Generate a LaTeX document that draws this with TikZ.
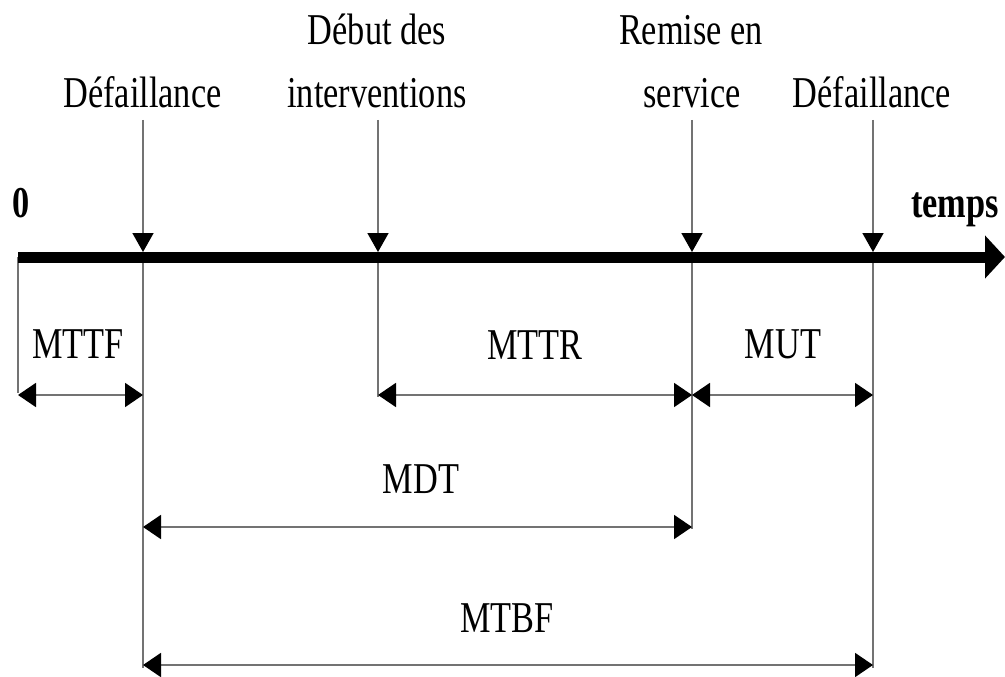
\documentclass[tikz,border=0pt]{standalone}
\usepackage{fontspec}
\setmainfont{Liberation Serif}[FakeStretch=0.78]
\usetikzlibrary{arrows.meta}
\begin{document}
\begin{tikzpicture}[x=1pt,y=-1pt,
  lbl/.style={anchor=base, inner sep=0pt, font=\fontsize{44}{52}\selectfont},
  boldlbl/.style={lbl, font=\fontsize{44}{52}\selectfont\bfseries},
  tick/.style={draw=black!55, line width=1.7pt},
  marker/.style={tick, -{Triangle[length=19pt,width=21pt,color=black]}},
  dim/.style={draw=black!55, line width=1.9pt,
    {Triangle[length=18pt,width=24pt,color=black]}-{Triangle[length=18pt,width=24pt,color=black]}},
  axis/.style={draw=black, line width=11pt, -{Triangle[length=20pt,width=42pt]}},
]
\useasboundingbox (0,0) rectangle (1005,677);

% events on the time axis
\coordinate (t0) at (18,257);
\coordinate (f1) at (143,257);
\coordinate (di) at (378,257);
\coordinate (rs) at (692,257);
\coordinate (f2) at (873,257);
\coordinate (tend) at (1005,257);

% top of the event markers
\coordinate (f1top) at (143,120);
\coordinate (ditop) at (378,120);
\coordinate (rstop) at (692,120);
\coordinate (f2top) at (873,120);

% lower ends of the extension lines (dimension levels)
\coordinate (t0low) at (18,393);
\coordinate (f1low) at (143,668);
\coordinate (dilow) at (378,397);
\coordinate (rslow) at (692,529);
\coordinate (f2low) at (873,668);

% extension lines below the axis
\draw[tick] (t0) -- (t0low);
\draw[tick] (f1) -- (f1low);
\draw[tick] (di) -- (dilow);
\draw[tick] (rs) -- (rslow);
\draw[tick] (f2) -- (f2low);

% time axis
\draw[axis] (t0) -- (tend);

% event markers pointing to the axis
\draw[marker] (f1top) -- ([yshift=5pt]f1);
\draw[marker] (ditop) -- ([yshift=5pt]di);
\draw[marker] (rstop) -- ([yshift=5pt]rs);
\draw[marker] (f2top) -- ([yshift=5pt]f2);

% event labels
\node[lbl] (lf1) at (142.5,107) {Défaillance};
\node[lbl] (ldi1) at (377,45) {Début des};
\node[lbl] (ldi2) at (377,108) {interventions};
\node[lbl] (lrs1) at (691,45) {Remise en};
\node[lbl] (lrs2) at (692,108) {service};
\node[lbl] (lf2) at (872,107) {Défaillance};
\node[boldlbl] (lzero) at (21,217) {0};
\node[boldlbl] (ltemps) at (955,217) {temps};

% durations
\draw[dim] (18,395) -- (143,395);
\node[lbl] (mttf) at (78,358) {MTTF};
\draw[dim] (378,395) -- (692,395);
\node[lbl] (mttr) at (535,359) {MTTR};
\draw[dim] (692,395) -- (873,395);
\node[lbl] (mut) at (783,358) {MUT};
\draw[dim] (143,527) -- (692,527);
\node[lbl] (mdt) at (421,493) {MDT};
\draw[dim] (143,665) -- (873,665);
\node[lbl] (mtbf) at (507,632) {MTBF};
\end{tikzpicture}
\end{document}
